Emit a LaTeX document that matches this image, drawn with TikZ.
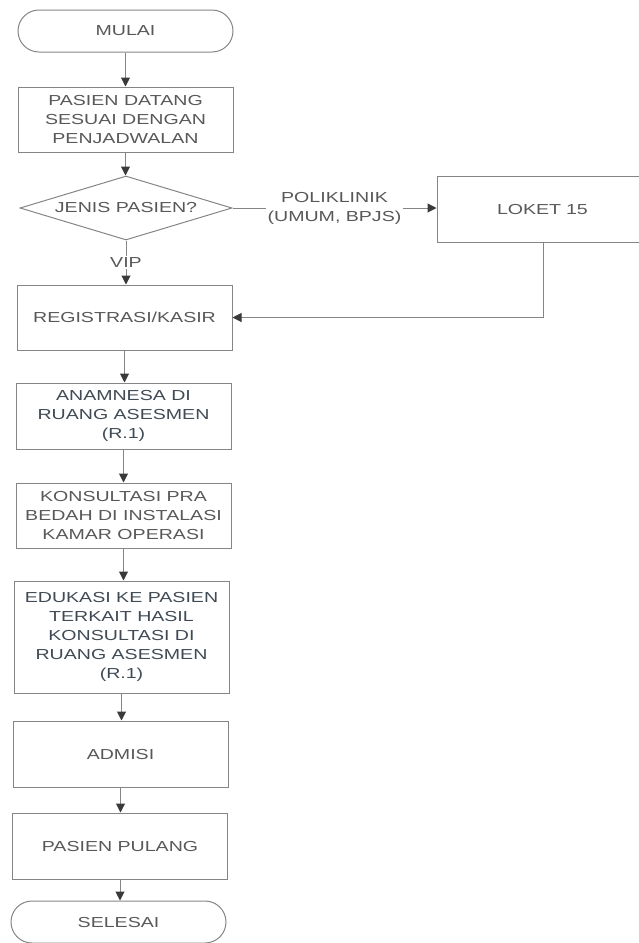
\documentclass[tikz,border=0pt]{standalone}
\usepackage{fontspec}
\setmainfont{Liberation Sans}[FakeStretch=1.35]
\usetikzlibrary{arrows.meta,shapes.geometric}
\definecolor{txt}{HTML}{585858}
\definecolor{txtd}{HTML}{404A55}
\definecolor{ln}{HTML}{858585}
\definecolor{tipc}{HTML}{3A3A3A}
\begin{document}
\begin{tikzpicture}[x=1pt,y=-1pt,
  every node/.style={font=\fontsize{14.5}{19}\selectfont, text=txt},
  proc/.style={draw=ln, line width=1pt, rectangle, minimum width=215pt, align=center, inner sep=1pt},
  term/.style={draw=ln, line width=1pt, rectangle, rounded corners=21pt, minimum width=215pt, minimum height=42pt},
  dec/.style={draw=ln, line width=1pt, diamond, aspect=3.3, minimum width=212pt, minimum height=64pt, inner sep=0pt},
  flow/.style={draw=ln, line width=1pt, -{Triangle[length=9pt,width=9pt,color=tipc]}},
  lbl/.style={fill=white, inner sep=2pt, align=center}
]
\useasboundingbox (0,0) rectangle (639,943);

\node[term] (mulai) at (125.5,31) {MULAI};
\node[proc, minimum height=65pt] (pd) at (125.5,119.5) {PASIEN DATANG\\SESUAI DENGAN\\PENJADWALAN};
\node[dec] (dec) at (126,208) {JENIS PASIEN?};
\node[proc, minimum width=260pt, minimum height=66pt, text width=212pt, align=left] (loket) at (567,209.5) {\hspace*{36pt}LOKET 15};
\node[proc, minimum height=65pt] (reg) at (124.5,317.5) {REGISTRASI/KASIR};
\node[proc, minimum height=66pt, text=txtd] (anam) at (123.5,416) {ANAMNESA DI\\RUANG ASESMEN\\(R.1)};
\node[proc, minimum height=65pt] (kons) at (123.5,515.5) {KONSULTASI PRA\\BEDAH DI INSTALASI\\KAMAR OPERASI};
\node[proc, minimum height=112pt, text=txtd] (edu) at (121.5,637) {EDUKASI KE PASIEN\\TERKAIT HASIL\\KONSULTASI DI\\RUANG ASESMEN\\(R.1)};
\node[proc, minimum height=66pt] (adm) at (120.5,754) {ADMISI};
\node[proc, minimum height=66pt] (pp) at (120,846) {PASIEN PULANG};
\node[term] (sel) at (118.5,922) {SELESAI};
\coordinate (lk) at ([xshift=-24pt]loket.south);

\draw[flow] (mulai.south) -- (mulai.south |- pd.north);
\draw[flow] (pd.south) -- (pd.south |- dec.north);
\draw[flow] (dec.south) -- node[lbl] {VIP} (dec.south |- reg.north);
\draw[flow] (dec.east) -- node[lbl] {POLIKLINIK\\(UMUM, BPJS)} (dec.east -| loket.west);
\draw[flow] (lk) |- (reg.east);
\draw[flow] (reg.south) -- (reg.south |- anam.north);
\draw[flow] (anam.south) -- (anam.south |- kons.north);
\draw[flow] (kons.south) -- (kons.south |- edu.north);
\draw[flow] (edu.south) -- (edu.south |- adm.north);
\draw[flow] (adm.south) -- (adm.south |- pp.north);
\draw[flow] (pp.south) -- (pp.south |- sel.north);
\end{tikzpicture}
\end{document}
